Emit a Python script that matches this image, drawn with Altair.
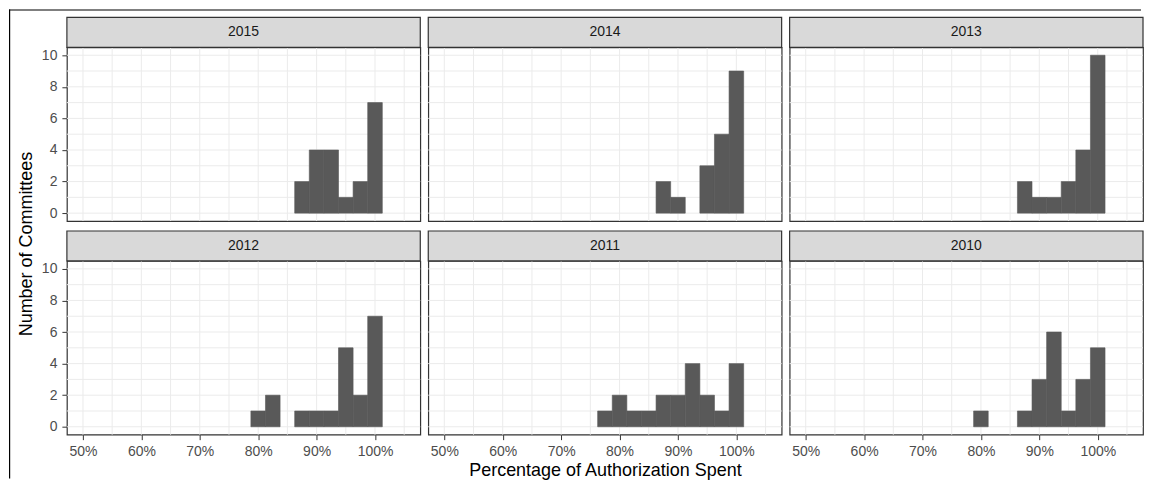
import altair as alt
import pandas as pd

# ---------------- data ----------------
years = ["2015", "2014", "2013", "2012", "2011", "2010"]
bin_centers = [77.5, 80.0, 82.5, 85.0, 87.5, 90.0, 92.5, 95.0, 97.5, 100.0]
counts_2015 = [0, 0, 0, 0, 2, 4, 4, 1, 2, 7]
counts_2014 = [0, 0, 0, 0, 2, 1, 0, 3, 5, 9]
counts_2013 = [0, 0, 0, 0, 2, 1, 1, 2, 4, 10]
counts_2012 = [0, 1, 2, 0, 1, 1, 1, 5, 2, 7]
counts_2011 = [1, 2, 1, 1, 2, 2, 4, 2, 1, 4]
counts_2010 = [0, 1, 0, 0, 1, 3, 6, 1, 3, 5]
bin_width = 2.5

x_ticks = [50, 60, 70, 80, 90, 100]
x_grid = [50, 55, 60, 65, 70, 75, 80, 85, 90, 95, 100, 105]
y_ticks = [0, 2, 4, 6, 8, 10]
y_grid = [0, 1, 2, 3, 4, 5, 6, 7, 8, 9, 10]
x_title = "Percentage of Authorization Spent"
y_title = "Number of Committees"

counts = {
    "2015": counts_2015, "2014": counts_2014, "2013": counts_2013,
    "2012": counts_2012, "2011": counts_2011, "2010": counts_2010,
}

# ---------------- styling ----------------
FONT = "Liberation Sans"
PW, PH, SH = 354, 174, 30
BORDER = "#333333"
BAR = "#595959"

xscale = alt.Scale(domain=[47.25, 107.75], nice=False, zero=False)
yscale = alt.Scale(domain=[-0.5, 10.5], nice=False, zero=False)


def hist_df(year):
    rows = [
        {"start": c - bin_width / 2, "end": c + bin_width / 2, "n": n}
        for c, n in zip(bin_centers, counts[year]) if n > 0
    ]
    return pd.DataFrame(rows)


def x_axis(show, with_title):
    if not show:
        return None
    return alt.Axis(
        values=x_ticks, labelExpr="datum.value + '%'", grid=False, domain=False,
        ticks=True, tickSize=5, tickColor=BORDER, tickWidth=1,
        labelColor="#4d4d4d", labelFontSize=14, labelFont=FONT, labelPadding=5,
        labelFlush=False, labelOverlap=False,
        title=x_title if with_title else None,
        titleFont=FONT, titleFontSize=18, titleFontWeight="normal",
        titleColor="black", titlePadding=3,
    )


def y_axis(show):
    if not show:
        return None
    return alt.Axis(
        values=y_ticks, grid=False, domain=False, ticks=True, tickSize=5,
        tickColor=BORDER, tickWidth=1, labelColor="#4d4d4d", labelFontSize=14,
        labelFont=FONT, labelPadding=5, labelFlush=False, labelOverlap=False,
        title=None,
    )


def panel(year, row, col):
    xa = x_axis(row == 1, row == 1 and col == 1)
    ya = y_axis(col == 0)
    grid_v = alt.Chart(pd.DataFrame({"g": x_grid})).mark_rule(
        color="#ebebeb", strokeWidth=1
    ).encode(x=alt.X("g:Q", scale=xscale, axis=xa))
    grid_h = alt.Chart(pd.DataFrame({"g": y_grid})).mark_rule(
        color="#ebebeb", strokeWidth=1
    ).encode(y=alt.Y("g:Q", scale=yscale, axis=ya))
    bars = alt.Chart(hist_df(year)).mark_rect(
        color=BAR, stroke=BAR, strokeWidth=0.6
    ).encode(
        x=alt.X("start:Q", scale=xscale, axis=xa),
        x2="end:Q",
        y=alt.Y("n:Q", scale=yscale, axis=ya),
        y2=alt.datum(0),
    )
    d = pd.DataFrame({"year": [year]})
    strip_box = alt.Chart(d).mark_rect(
        fill="#d9d9d9", stroke=BORDER, strokeWidth=1.2
    ).encode(x=alt.value(0), x2=alt.value(PW), y=alt.value(-SH), y2=alt.value(0))
    strip_txt = alt.Chart(d).mark_text(
        font=FONT, fontSize=14, color="#1a1a1a", baseline="middle", align="center"
    ).encode(text="year:N", x=alt.value(PW / 2), y=alt.value(-SH / 2))
    layers = [grid_v, grid_h, bars, strip_box, strip_txt]
    if row == 0 and col == 0:
        frame_left = alt.Chart(d).mark_rect(fill="black").encode(
            x=alt.value(-58), x2=alt.value(-56.8),
            y=alt.value(-38), y2=alt.value(432),
        )
        frame_top = alt.Chart(d).mark_rect(fill="black").encode(
            x=alt.value(-58), x2=alt.value(1076),
            y=alt.value(-38), y2=alt.value(-36.8),
        )
        ytxt = alt.Chart(d).mark_text(
            font=FONT, fontSize=18, color="black", angle=270,
            baseline="middle", align="center"
        ).encode(text=alt.value(y_title), x=alt.value(-39.5), y=alt.value(197))
        layers += [frame_left, frame_top, ytxt]
    return alt.layer(*layers).properties(
        width=PW, height=PH,
        view=alt.ViewBackground(fill="white", stroke=BORDER, strokeWidth=1.2),
    )


panels = [panel(years[i], i // 3, i % 3) for i in range(6)]

chart = alt.concat(
    *panels, columns=3, spacing={"row": 40, "column": 8}, bounds="flush"
).properties(
    padding={"left": 0, "top": 0, "right": 0, "bottom": 0}
).configure(font=FONT, background="white")

chart.save("out.html", embed_options={"renderer": "svg", "actions": False})
